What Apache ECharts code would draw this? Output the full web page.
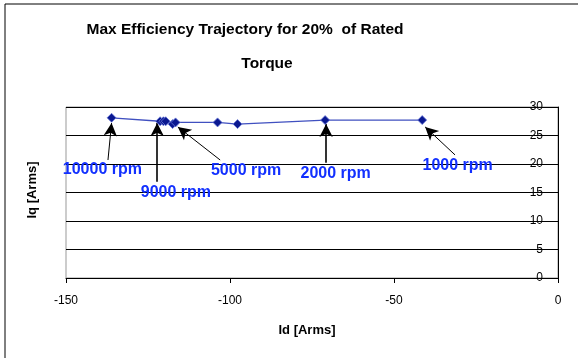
<!DOCTYPE html>
<html>
<head>
<meta charset="utf-8">
<script src="https://cdn.jsdelivr.net/npm/echarts@6/dist/echarts.min.js"></script>
<style>html,body{margin:0;padding:0;background:#fff}#c{width:578px;height:358px}</style>
</head>
<body>
<div id="c"></div>
<script>
// Trajectory data (Id, Iq)
var idValues = [-136.1, -121.3, -120.3, -119.6, -117.5, -116.6, -103.8, -97.7, -71.0, -41.4];
var iqValues = [28.1, 27.5, 27.5, 27.5, 27.0, 27.3, 27.3, 27.0, 27.7, 27.7];

// Axis ticks
var xTicks = [-150, -100, -50, 0];
var yTicks = [0, 5, 10, 15, 20, 25, 30];

// Annotations (in data coordinates)
var annLabels = ['10000 rpm', '9000 rpm', '5000 rpm', '2000 rpm', '1000 rpm'];
var annTextX = [-138.9, -116.5, -95.1, -67.8, -30.6];
var annTextY = [19.1, 14.9, 18.8, 18.4, 19.8];
var arrowStartX = [-137.2, -122.2, -103.0, -70.7, -31.4];
var arrowStartY = [20.7, 16.9, 20.7, 20.2, 21.6];
var arrowEndX = [-136.1, -122.2, -115.9, -70.7, -40.5];
var arrowEndY = [27.2, 27.2, 26.5, 27.0, 26.5];
var arrowWidth = [1, 1.6, 1, 1.6, 1];

var font = '"Liberation Sans", Arial, sans-serif';
var chart = echarts.init(document.getElementById('c'), null, {renderer: 'canvas'});

var points = idValues.map(function (x, i) { return [x, iqValues[i]]; });
var annPoints = annLabels.map(function (n, i) { return {name: n, value: [annTextX[i], annTextY[i]]}; });
var arrows = annLabels.map(function (n, i) {
  return [
    {coord: [arrowStartX[i], arrowStartY[i]], lineStyle: {width: arrowWidth[i]}},
    {coord: [arrowEndX[i], arrowEndY[i]]}
  ];
});

chart.setOption({
  backgroundColor: '#ffffff',
  animation: false,
  grid: {left: 66, right: 20, top: 107, bottom: 80, show: true, borderColor: '#999999', borderWidth: 1, backgroundColor: 'transparent'},
  graphic: [
    {type: 'rect', shape: {x: 5, y: 4, width: 700, height: 500}, style: {fill: 'none', stroke: '#000', lineWidth: 1}, silent: true, z: 0},
    {type: 'text', x: 245, y: 30, style: {text: 'Max Efficiency Trajectory for 20%  of Rated', font: 'bold 15.5px ' + font, fill: '#000', align: 'center', verticalAlign: 'middle'}},
    {type: 'text', x: 267, y: 64, style: {text: 'Torque', font: 'bold 15.5px ' + font, fill: '#000', align: 'center', verticalAlign: 'middle'}},
    {type: 'text', x: 307, y: 330, style: {text: 'Id [Arms]', font: 'bold 13px ' + font, fill: '#000', align: 'center', verticalAlign: 'middle'}},
    {type: 'text', x: 32, y: 190, rotation: Math.PI / 2, style: {text: 'Iq [Arms]', font: 'bold 13px ' + font, fill: '#000', align: 'center', verticalAlign: 'middle'}}
  ],
  xAxis: {
    type: 'value', min: xTicks[0], max: xTicks[xTicks.length - 1], interval: 50,
    axisLine: {onZero: false, lineStyle: {color: '#000', width: 1}},
    axisTick: {show: true, inside: false, length: 5, lineStyle: {color: '#000'}},
    axisLabel: {color: '#000', fontSize: 12, fontFamily: font, margin: 17},
    splitLine: {show: false}
  },
  yAxis: {
    type: 'value', position: 'right', min: yTicks[0], max: yTicks[yTicks.length - 1], interval: 5,
    axisLine: {show: true, onZero: false, lineStyle: {color: '#000', width: 1}},
    axisTick: {show: true, inside: true, length: 5, lineStyle: {color: '#000'}},
    axisLabel: {inside: true, color: '#000', fontSize: 12, fontFamily: font, margin: 15},
    splitLine: {show: true, lineStyle: {color: '#000', width: 1}},
    z: 3
  },
  series: [
    {
      type: 'line', data: points, symbol: 'diamond', symbolSize: 9,
      lineStyle: {color: '#4050c0', width: 1.3},
      itemStyle: {color: '#0a1890', borderColor: '#6a78d8', borderWidth: 0.8},
      z: 5,
      markLine: {
        silent: true, symbol: ['none', 'arrow'], symbolSize: [10, 13],
        lineStyle: {color: '#000', type: 'solid', width: 1, opacity: 1},
        itemStyle: {color: '#000'},
        label: {show: false},
        data: arrows
      }
    },
    {
      type: 'scatter', data: annPoints, symbolSize: 0, z: 6,
      itemStyle: {opacity: 1},
      label: {show: true, position: 'inside', formatter: '{b}', color: '#1230ff', opacity: 1, fontSize: 16, fontWeight: 'bold', fontFamily: font}
    }
  ]
});
</script>
</body>
</html>
